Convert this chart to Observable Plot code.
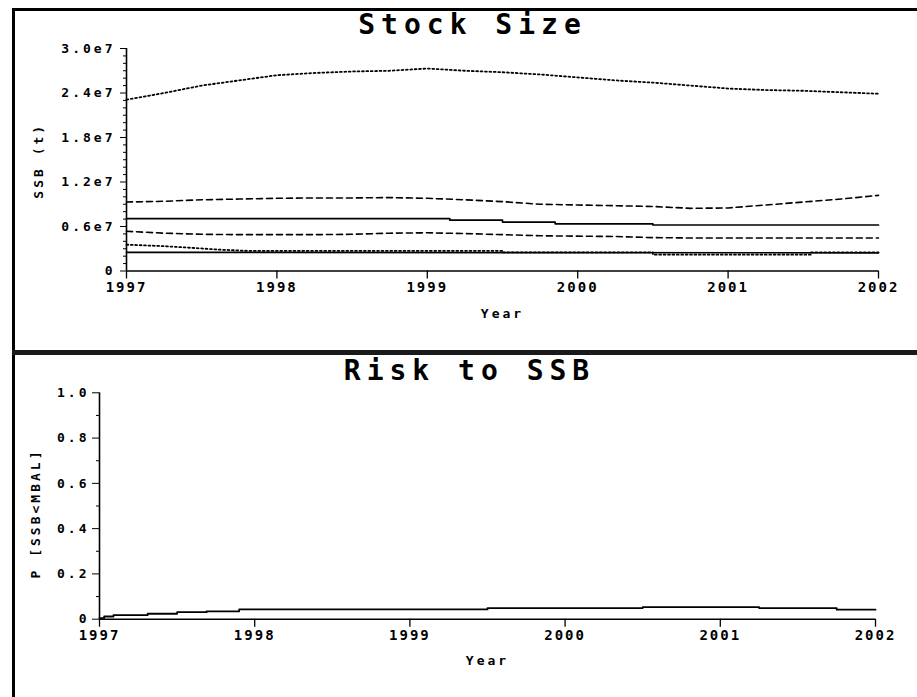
<!DOCTYPE html>
<html><head><meta charset="utf-8">
<script src="https://cdn.jsdelivr.net/npm/d3@7"></script>
<script src="https://cdn.jsdelivr.net/npm/@observablehq/plot@0.6"></script>
<style>
body{margin:0;background:#fff;}
#wrap{position:relative;width:917px;height:697px;overflow:hidden;background:#fff;}
.panel{position:absolute;left:0;}
.bar{position:absolute;background:#000;}
</style></head><body>
<div id="wrap">
  <div id="top" class="panel" style="top:0"></div>
  <div id="bottom" class="panel" style="top:345px"></div>
  <div class="bar" style="left:12px;top:8px;width:905px;height:3px"></div>
  <div class="bar" style="left:12px;top:8px;width:3px;height:689px"></div>
  <div class="bar" style="left:12px;top:350px;width:905px;height:5px;background:#1a1a1a"></div>
</div>
<script>
// ---- Data ----
const titleTop = "Stock Size";
const titleBottom = "Risk to SSB";
const xLabel = "Year";
const yLabelTop = "SSB (t)";
const yLabelBottom = "P [SSB<MBAL]";

const xTicks = [1997, 1998, 1999, 2000, 2001, 2002];
const yTicksTop = [0, 6e6, 1.2e7, 1.8e7, 2.4e7, 3.0e7];
const yTickLabelsTop = ["0", "0.6e7", "1.2e7", "1.8e7", "2.4e7", "3.0e7"];
const yTicksBottom = [0, 0.2, 0.4, 0.6, 0.8, 1.0];
const yTickLabelsBottom = ["0", "0.2", "0.4", "0.6", "0.8", "1.0"];

const quarterYears = [1997, 1997.25, 1997.5, 1997.75, 1998, 1998.25, 1998.5, 1998.75, 1999, 1999.25, 1999.5,
  1999.75, 2000, 2000.25, 2000.5, 2000.75, 2001, 2001.25, 2001.5, 2001.75, 2002];

// upper percentile (dotted)
const upperDotted = [2.31e7, 2.40e7, 2.50e7, 2.57e7, 2.64e7, 2.67e7, 2.69e7, 2.70e7, 2.73e7, 2.70e7, 2.68e7,
  2.65e7, 2.61e7, 2.57e7, 2.54e7, 2.50e7, 2.46e7, 2.44e7, 2.43e7, 2.41e7, 2.39e7];
// upper (dashed)
const upperDashed = [9.3e6, 9.4e6, 9.6e6, 9.7e6, 9.8e6, 9.85e6, 9.85e6, 9.9e6, 9.8e6, 9.6e6, 9.35e6,
  9.0e6, 8.9e6, 8.8e6, 8.7e6, 8.45e6, 8.5e6, 8.9e6, 9.3e6, 9.7e6, 1.02e7];
// lower (dashed)
const lowerDashed = [5.35e6, 5.1e6, 4.95e6, 4.9e6, 4.9e6, 4.9e6, 4.95e6, 5.1e6, 5.15e6, 5.05e6, 4.9e6,
  4.75e6, 4.7e6, 4.65e6, 4.5e6, 4.45e6, 4.45e6, 4.45e6, 4.45e6, 4.45e6, 4.45e6];
// upper solid (stepped)
const upperSolidYears = [1997, 1999.15, 1999.5, 1999.85, 2000.5, 2002];
const upperSolid = [7.05e6, 6.85e6, 6.6e6, 6.36e6, 6.2e6, 6.2e6];
// lower dotted
const lowerDottedYears = [1997, 1997.25, 1997.45, 1997.6, 1997.8, 1999.5, 1999.5, 2000.5, 2000.5, 2001.55, 2001.55, 2002];
const lowerDotted = [3.55e6, 3.35e6, 3.1e6, 2.9e6, 2.72e6, 2.72e6, 2.5e6, 2.5e6, 2.2e6, 2.2e6, 2.5e6, 2.5e6];
// lower solid
const lowerSolidYears = [1997, 2002];
const lowerSolid = [2.52e6, 2.45e6];

// risk
const riskYears = [1997, 1997.03, 1997.09, 1997.31, 1997.5, 1997.69, 1997.9, 1999.5, 2000.5, 2001.25, 2001.75, 2002];
const risk = [0.005, 0.012, 0.018, 0.024, 0.031, 0.035, 0.043, 0.049, 0.053, 0.049, 0.042, 0.042];

const yMinorTop = [1e6,2e6,3e6,4e6,5e6,7e6,8e6,9e6,1e7,1.1e7,1.3e7,1.4e7,1.5e7,1.6e7,1.7e7,1.9e7,2.0e7,2.1e7,2.2e7,2.3e7,2.5e7,2.6e7,2.7e7,2.8e7,2.9e7];
const yMinorBottom = [0.1, 0.3, 0.5, 0.7, 0.9];

// ---- Helpers ----
const rows = (xs, ys) => xs.map((x, i) => ({x, y: ys[i]}));
const mapTop = new Map(yTicksTop.map((v, i) => [v, yTickLabelsTop[i]]));
const mapBottom = new Map(yTicksBottom.map((v, i) => [v, yTickLabelsBottom[i]]));
const FONT = "DejaVu Sans Mono";
const baseStyle = {background: "transparent", fontFamily: FONT, fontWeight: "bold", color: "#000", overflow: "visible"};
const txt = {fontFamily: FONT, fontWeight: "bold", fill: "#000"};

const DOT = "1.8,2.6", DASH = "6,4";

const topPlot = Plot.plot({
  width: 917, height: 345,
  marginLeft: 126, marginRight: 39, marginTop: 48, marginBottom: 74.5,
  x: {domain: [1997, 2002]},
  y: {domain: [0, 3.0e7]},
  style: baseStyle,
  marks: [
    Plot.ruleY([0], {x1: 1997, x2: 2002, strokeWidth: 1.6}),
    Plot.ruleX([1997], {y1: 0, y2: 3.0e7, strokeWidth: 1.6}),
    Plot.axisX({ticks: xTicks, tickFormat: d => String(d), tickSize: 8, tickPadding: 3, label: null, fontSize: 14, strokeWidth: 1.3}),
    Plot.axisY({ticks: yTicksTop, tickFormat: d => mapTop.get(d), tickSize: 6, tickPadding: 5, label: null, fontSize: 13}),
    Plot.axisY({ticks: yMinorTop, tickFormat: () => "", tickSize: 3, label: null}),
    Plot.line(rows(quarterYears, upperDotted), {x: "x", y: "y", strokeWidth: 1.8, strokeDasharray: DOT}),
    Plot.line(rows(quarterYears, upperDashed), {x: "x", y: "y", strokeWidth: 1.6, strokeDasharray: DASH}),
    Plot.line(rows(upperSolidYears, upperSolid), {x: "x", y: "y", strokeWidth: 1.7, curve: "step-after"}),
    Plot.line(rows(quarterYears, lowerDashed), {x: "x", y: "y", strokeWidth: 1.6, strokeDasharray: DASH}),
    Plot.line(rows(lowerDottedYears, lowerDotted), {x: "x", y: "y", strokeWidth: 1.8, strokeDasharray: DOT}),
    Plot.line(rows(lowerSolidYears, lowerSolid), {x: "x", y: "y", strokeWidth: 1.7}),
    Plot.text([titleTop], {text: d => d, frameAnchor: "top", dx: -30, dy: -15, lineAnchor: "bottom", fontSize: 28, ...txt}),
    Plot.text([xLabel], {text: d => d, frameAnchor: "bottom", dy: 47, fontSize: 13, ...txt}),
    Plot.text([yLabelTop], {text: d => d, frameAnchor: "left", textAnchor: "middle", dx: -88, dy: 1, rotate: -90, fontSize: 13, ...txt})
  ]
});

const bottomPlot = Plot.plot({
  width: 917, height: 352,
  marginLeft: 99, marginRight: 42, marginTop: 47.3, marginBottom: 78.3,
  x: {domain: [1997, 2002]},
  y: {domain: [0, 1.0]},
  style: baseStyle,
  marks: [
    Plot.ruleY([0], {x1: 1997, x2: 2002, strokeWidth: 1.6}),
    Plot.ruleX([1997], {y1: 0, y2: 1.0, strokeWidth: 1.6}),
    Plot.axisX({ticks: xTicks, tickFormat: d => String(d), tickSize: 8, tickPadding: 3, label: null, fontSize: 14, strokeWidth: 1.3}),
    Plot.axisY({ticks: yTicksBottom, tickFormat: d => mapBottom.get(d), tickSize: 7, tickPadding: 3, label: null, fontSize: 13}),
    Plot.axisY({ticks: yMinorBottom, tickFormat: () => "", tickSize: 3, label: null}),
    Plot.line(rows(riskYears, risk), {x: "x", y: "y", strokeWidth: 1.8, curve: "step-after"}),
    Plot.text([titleBottom], {text: d => d, frameAnchor: "top", dx: -18, dy: -13.3, lineAnchor: "bottom", fontSize: 28, ...txt}),
    Plot.text([xLabel], {text: d => d, frameAnchor: "bottom", dy: 46, fontSize: 13, ...txt}),
    Plot.text([yLabelBottom], {text: d => d, frameAnchor: "left", textAnchor: "middle", dx: -64, dy: 7.5, rotate: -90, fontSize: 13, ...txt})
  ]
});

document.getElementById("top").appendChild(topPlot);
document.getElementById("bottom").appendChild(bottomPlot);

// letter spacing to mimic the wide bitmap font
for (const svg of [topPlot, bottomPlot]) {
  svg.querySelectorAll("text").forEach(t => {
    const fs = parseFloat(t.getAttribute("font-size") || t.closest("[font-size]")?.getAttribute("font-size") || "13");
    t.style.letterSpacing = fs >= 20 ? "6px" : (fs >= 14 ? "2px" : "3px");
  });
}
</script>
</body></html>
